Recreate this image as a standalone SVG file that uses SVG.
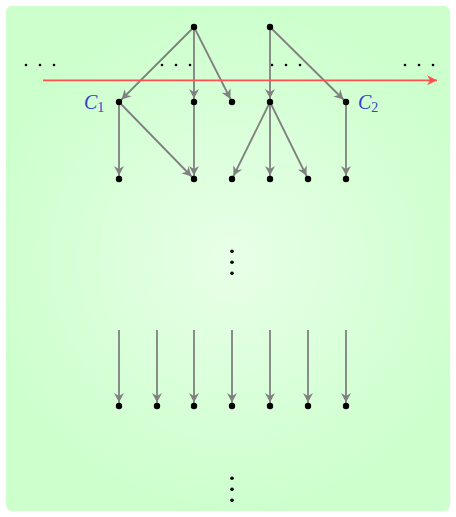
<svg xmlns="http://www.w3.org/2000/svg" width="456" height="517" viewBox="0 0 456 517">
<defs>
<radialGradient id="bg" cx="232" cy="260" r="260" gradientUnits="userSpaceOnUse">
<stop offset="0" stop-color="#e8ffe8"/>
<stop offset="1" stop-color="#ccffcc"/>
</radialGradient>
<marker id="ah" viewBox="-12 -6 16 12" refX="3.5" refY="0" markerWidth="16" markerHeight="12" markerUnits="userSpaceOnUse" orient="auto">
<path d="M0,0 L-9.5,-5 L-6.5,0 L-9.5,5 Z" fill="#808080"/>
</marker>
<marker id="rh" viewBox="-12 -6 14 12" refX="0" refY="0" markerWidth="14" markerHeight="12" markerUnits="userSpaceOnUse" orient="auto">
<path d="M0,0 L-10,-5 L-7,0 L-10,5 Z" fill="#ff5050"/>
</marker>
<style>
.e{stroke:#808080;stroke-width:1.8;fill:none;marker-end:url(#ah)}
.n{fill:#000}
.d{fill:#000}
.lab{font-family:"Liberation Serif","DejaVu Serif",serif;fill:#3344cc}
</style>
</defs>
<rect x="6" y="6" width="444" height="505" rx="6" fill="url(#bg)"/>
<g id="dots">
<circle class="d" cx="26" cy="65" r="1.3"/><circle class="d" cx="40" cy="65" r="1.3"/><circle class="d" cx="54" cy="65" r="1.3"/>
<circle class="d" cx="162" cy="65" r="1.3"/><circle class="d" cx="176" cy="65" r="1.3"/><circle class="d" cx="190" cy="65" r="1.3"/>
<circle class="d" cx="272" cy="65" r="1.3"/><circle class="d" cx="286" cy="65" r="1.3"/><circle class="d" cx="300" cy="65" r="1.3"/>
<circle class="d" cx="405" cy="65" r="1.3"/><circle class="d" cx="419" cy="65" r="1.3"/><circle class="d" cx="433" cy="65" r="1.3"/>
<circle class="d" cx="232" cy="251.3" r="1.8"/><circle class="d" cx="232" cy="262.3" r="1.8"/><circle class="d" cx="232" cy="273.3" r="1.8"/>
<circle class="d" cx="232" cy="478.3" r="1.8"/><circle class="d" cx="232" cy="489.3" r="1.8"/><circle class="d" cx="232" cy="500.3" r="1.8"/>
</g>
<g id="connectors">
<line class="e" x1="194" y1="27" x2="119" y2="102"/>
<line class="e" x1="194" y1="27" x2="194" y2="102"/>
<line class="e" x1="194" y1="27" x2="232" y2="102"/>
<line class="e" x1="270" y1="27" x2="270" y2="102"/>
<line class="e" x1="270" y1="27" x2="346" y2="102"/>
<line class="e" x1="119" y1="102" x2="119" y2="179"/>
<line class="e" x1="119" y1="102" x2="194" y2="179"/>
<line class="e" x1="194" y1="102" x2="194" y2="179"/>
<line class="e" x1="270" y1="102" x2="232" y2="179"/>
<line class="e" x1="270" y1="102" x2="270" y2="179"/>
<line class="e" x1="270" y1="102" x2="308" y2="179"/>
<line class="e" x1="346" y1="102" x2="346" y2="179"/>
<line class="e" x1="119" y1="330" x2="119" y2="406"/>
<line class="e" x1="157" y1="330" x2="157" y2="406"/>
<line class="e" x1="194" y1="330" x2="194" y2="406"/>
<line class="e" x1="232" y1="330" x2="232" y2="406"/>
<line class="e" x1="270" y1="330" x2="270" y2="406"/>
<line class="e" x1="308" y1="330" x2="308" y2="406"/>
<line class="e" x1="346" y1="330" x2="346" y2="406"/>
<line x1="43" y1="80.3" x2="437" y2="80.3" stroke="#ff5050" stroke-width="1.8" marker-end="url(#rh)"/>
</g>
<g id="n-t1"><circle class="n" cx="194" cy="27" r="3.2"/></g>
<g id="n-t2"><circle class="n" cx="270" cy="27" r="3.2"/></g>
<g id="n-c1"><circle class="n" cx="119" cy="102" r="3.2"/><text class="lab" x="84" y="108.5" font-size="20"><tspan font-style="italic">C</tspan><tspan font-size="14" dy="3">1</tspan></text></g>
<g id="n-b2"><circle class="n" cx="194" cy="102" r="3.2"/></g>
<g id="n-b3"><circle class="n" cx="232" cy="102" r="3.2"/></g>
<g id="n-b4"><circle class="n" cx="270" cy="102" r="3.2"/></g>
<g id="n-c2"><circle class="n" cx="346" cy="102" r="3.2"/><text class="lab" x="358" y="108.5" font-size="20"><tspan font-style="italic">C</tspan><tspan font-size="14" dy="3">2</tspan></text></g>
<g id="n-r3-1"><circle class="n" cx="119" cy="179" r="3.2"/></g>
<g id="n-r3-2"><circle class="n" cx="194" cy="179" r="3.2"/></g>
<g id="n-r3-3"><circle class="n" cx="232" cy="179" r="3.2"/></g>
<g id="n-r3-4"><circle class="n" cx="270" cy="179" r="3.2"/></g>
<g id="n-r3-5"><circle class="n" cx="308" cy="179" r="3.2"/></g>
<g id="n-r3-6"><circle class="n" cx="346" cy="179" r="3.2"/></g>
<g id="n-r4-1"><circle class="n" cx="119" cy="406" r="3.2"/></g>
<g id="n-r4-2"><circle class="n" cx="157" cy="406" r="3.2"/></g>
<g id="n-r4-3"><circle class="n" cx="194" cy="406" r="3.2"/></g>
<g id="n-r4-4"><circle class="n" cx="232" cy="406" r="3.2"/></g>
<g id="n-r4-5"><circle class="n" cx="270" cy="406" r="3.2"/></g>
<g id="n-r4-6"><circle class="n" cx="308" cy="406" r="3.2"/></g>
<g id="n-r4-7"><circle class="n" cx="346" cy="406" r="3.2"/></g>
</svg>
